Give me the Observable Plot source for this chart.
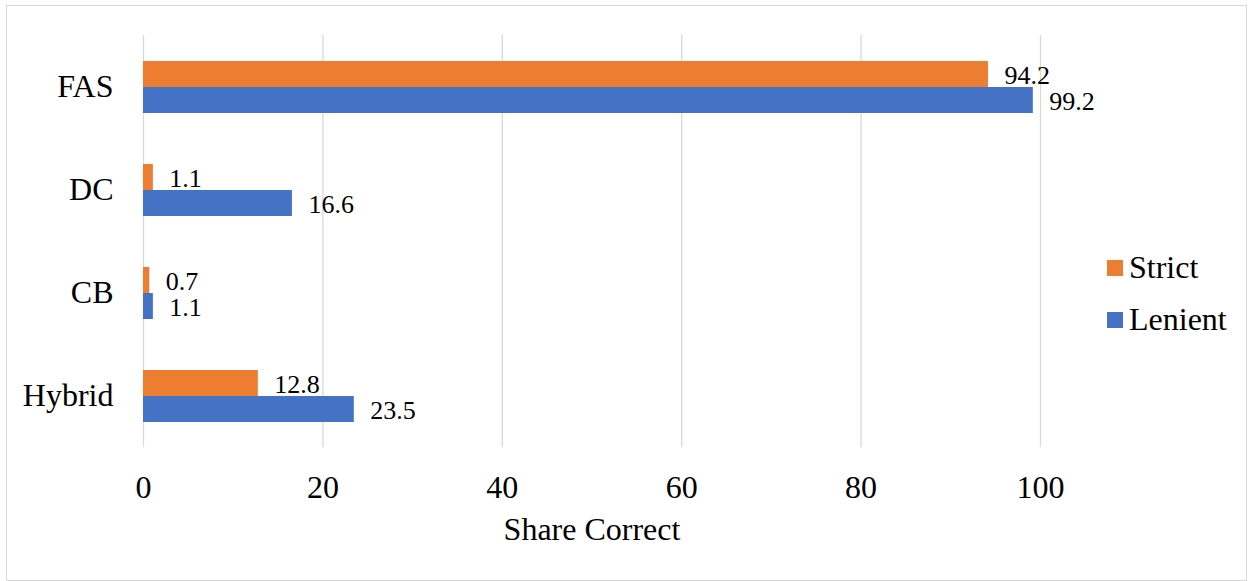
<!DOCTYPE html>
<html><head><meta charset="utf-8">
<script src="https://cdn.jsdelivr.net/npm/d3@7"></script>
<script src="https://cdn.jsdelivr.net/npm/@observablehq/plot@0.6"></script>
</head><body style="margin:0;padding:0;background:#fff;font-family:'Times New Roman', Tinos, 'Liberation Serif', serif;">
<div id="chart" style="position:absolute;left:0;top:0;"></div>
<div id="legend" style="position:absolute;left:1107px;top:251px;"></div>
<div style="position:absolute;left:6px;top:5px;width:1241px;height:576px;border:1.3px solid #d9d9d9;box-sizing:border-box;pointer-events:none;"></div>
<script>
const categories = ["FAS", "DC", "CB", "Hybrid"];
const series = ["Strict", "Lenient"];
const strictValues = [94.2, 1.1, 0.7, 12.8];
const lenientValues = [99.2, 16.6, 1.1, 23.5];
const xTicks = [0, 20, 40, 60, 80, 100];
const colors = ["#ED7D31", "#4472C4"];
const xLabel = "Share Correct";

const rows = [];
categories.forEach((c, i) => {
  rows.push({category: c, series: series[0], value: strictValues[i]});
  rows.push({category: c, series: series[1], value: lenientValues[i]});
});

const font = "'Times New Roman', Tinos, 'Liberation Serif', serif";
const chart = Plot.plot({
  width: 1253, height: 581,
  marginLeft: 143, marginRight: 213, marginTop: 34, marginBottom: 133,
  style: {fontFamily: font, background: "transparent", color: "#000"},
  x: {domain: [0, 100], ticks: xTicks, label: xLabel},
  fy: {domain: categories, padding: 0, label: null},
  y: {domain: series, paddingInner: 0, paddingOuter: 0.92, axis: null},
  color: {domain: series, range: colors},
  marks: [
    Plot.gridX(xTicks, {stroke: "#d9d9d9", strokeOpacity: 1, strokeWidth: 1.3}),
    Plot.barX(rows, {x: "value", y: "series", fy: "category", fill: "series"}),
    Plot.text(rows, {x: "value", y: "series", fy: "category", text: d => d.value.toFixed(1), textAnchor: "start", dx: 16, dy: 1.5, fontSize: 26, fontFamily: font, fill: "#000"}),
    Plot.axisX(xTicks, {tickSize: 0, tickPadding: 28, fontSize: 32, fontFamily: font, label: xLabel, labelAnchor: "center", labelOffset: 92, labelArrow: "none"}),
    Plot.axisFy({anchor: "left", tickSize: 0, tickPadding: 30, fontSize: 32, fontFamily: font, label: null})
  ]
});
document.getElementById("chart").appendChild(chart);

const legend = document.getElementById("legend");
series.forEach((s, i) => {
  const item = document.createElement("div");
  item.style.display = "flex";
  item.style.alignItems = "center";
  item.style.height = "33px";
  item.style.marginBottom = "19px";
  item.style.fontSize = "32px";
  item.style.fontFamily = font;
  item.style.whiteSpace = "nowrap";
  const sw = document.createElement("div");
  sw.style.width = "16px";
  sw.style.height = "16px";
  sw.style.marginRight = "6px";
  sw.style.flex = "none";
  sw.style.background = colors[i];
  const t = document.createElement("span");
  t.textContent = s;
  item.appendChild(sw);
  item.appendChild(t);
  legend.appendChild(item);
});
</script>
</body></html>
